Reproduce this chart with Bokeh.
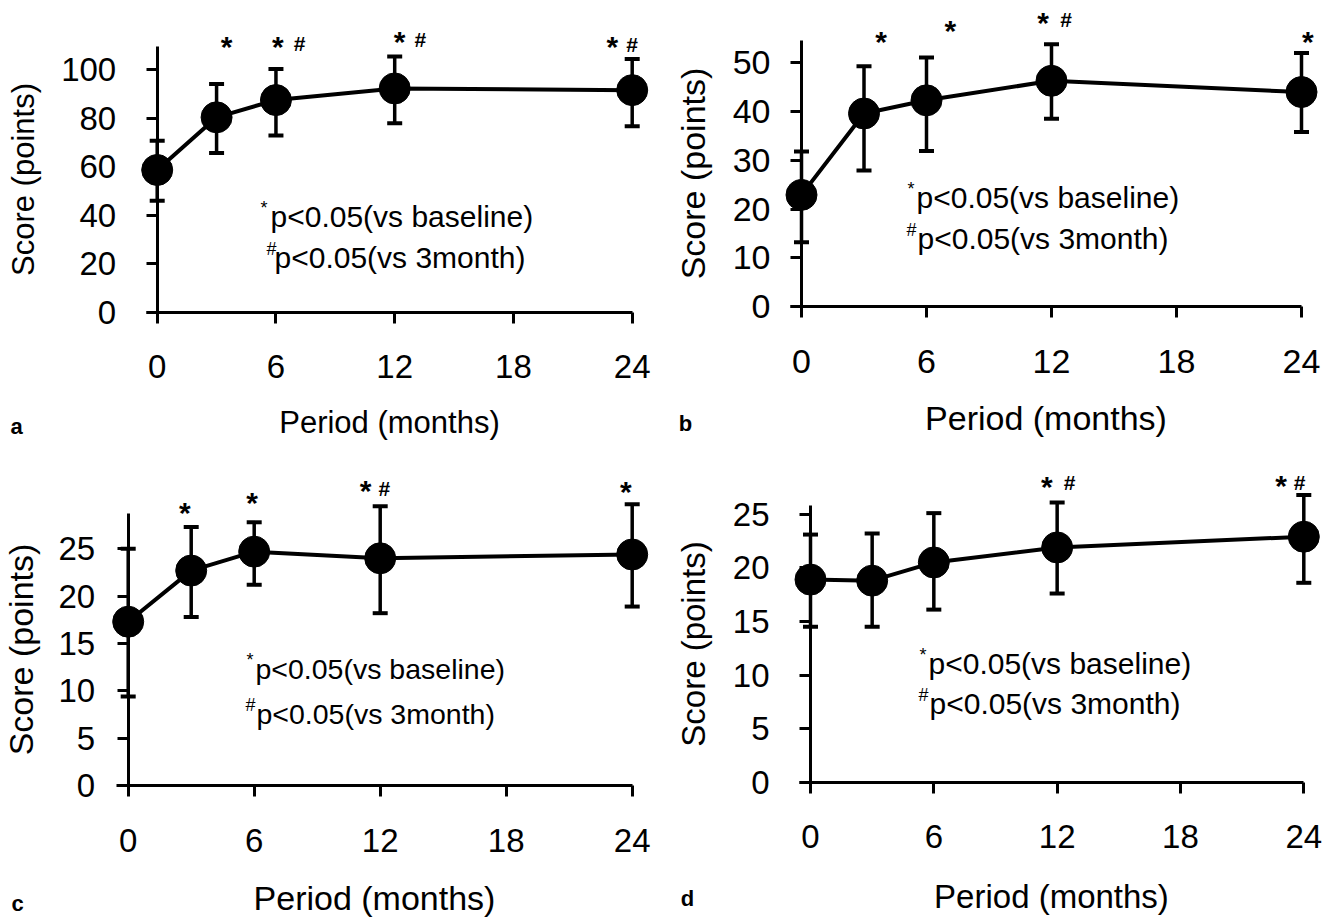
from bokeh.plotting import figure
from bokeh.models import (ColumnDataSource, Whisker, TeeHead, Label, FixedTicker,
                          LinearAxis, Range1d)
from bokeh.layouts import column, row
from bokeh.embed import file_html
from bokeh.resources import INLINE
from bokeh.core.properties import value

# ---------------- data ----------------
months = [0, 3, 6, 12, 24]
x_ticks = [0, 6, 12, 18, 24]

a_mean = [58.6, 80.3, 87.4, 92.2, 91.5]
a_upper = [70.6, 94.0, 100.2, 105.4, 104.3]
a_lower = [45.9, 65.6, 72.8, 77.9, 76.6]
a_yticks = [0, 20, 40, 60, 80, 100]
a_star_x = [3.5, 6.1, 12.25, 23.0]
a_star_y = [109.3, 109.3, 111.4, 109.3]
a_hash_x = [7.2, 13.3, 24.0]
a_hash_y = [110.9, 112.4, 110.4]

b_mean = [22.9, 39.6, 42.3, 46.3, 44.0]
b_upper = [31.8, 49.3, 51.1, 53.8, 52.0]
b_lower = [13.2, 27.9, 31.9, 38.5, 35.8]
b_yticks = [0, 10, 20, 30, 40, 50]
b_star_x = [3.82, 7.14, 11.6, 24.3]
b_star_y = [54.3, 56.7, 58.3, 54.3]
b_hash_x = [12.7]
b_hash_y = [58.9]

c_mean = [17.3, 22.7, 24.7, 24.0, 24.4]
c_upper = [25.0, 27.3, 27.8, 29.5, 29.7]
c_lower = [9.4, 17.8, 21.2, 18.2, 18.9]
c_yticks = [0, 5, 10, 15, 20, 25]
c_star_x = [2.7, 5.9, 11.3, 23.7]
c_star_y = [28.8, 29.9, 31.2, 31.1]
c_hash_x = [12.2]
c_hash_y = [31.4]

d_mean = [18.9, 18.8, 20.5, 21.9, 22.9]
d_upper = [23.1, 23.2, 25.1, 26.1, 26.8]
d_lower = [14.5, 14.5, 16.1, 17.6, 18.6]
d_yticks = [0, 5, 10, 15, 20, 25]
d_star_x = [11.5, 22.9]
d_star_y = [27.6, 27.7]
d_hash_x = [12.6, 23.8]
d_hash_y = [28.0, 28.0]

note1 = "p<0.05(vs baseline)"
note2 = "p<0.05(vs 3month)"
x_label = "Period (months)"
y_label = "Score (points)"

FONT = "Liberation Sans"

# ---------------- layout configuration (screen pixels) ----------------
cfg_a = dict(fig=(0, 0, 669, 450), x0=156.7, x24=631.7, y0=311.7, sy=2.427,
             ytop=109.3, tick_fs=33, lab_fs=31,
             ylab_standoff=30, yals=17, xals=23,
             notes=(260, 270, 216, 266, 274, 257, 30), letter=("a", 16, 426))
cfg_b = dict(fig=(669, 0, 669, 450), x0=801, x24=1301, y0=306, sy=4.874,
             ytop=54.6, tick_fs=34, lab_fs=34,
             ylab_standoff=20, yals=18, xals=23,
             notes=(907, 916, 197, 906, 917, 238, 30), letter=("b", 685, 423))
cfg_c = dict(fig=(0, 450, 669, 467), x0=127.7, x24=631.7, y0=785, sy=9.468,
             ytop=28.7, tick_fs=33, lab_fs=34,
             ylab_standoff=22, yals=16, xals=24,
             notes=(246, 255, 668, 245, 256, 713, 28.5), letter=("c", 17, 903))
cfg_d = dict(fig=(669, 450, 669, 467), x0=810, x24=1303.3, y0=781.7, sy=10.72,
             ytop=25.8, tick_fs=33, lab_fs=33,
             ylab_standoff=30, yals=18, xals=26,
             notes=(919, 928, 663, 918, 929, 703, 30), letter=("d", 687, 898))


def make_panel(cfg, mean, upper, lower, yticks, star_x, star_y, hash_x, hash_y):
    ox, oy, W, H = cfg["fig"]
    x0, x24, y0, sy = cfg["x0"], cfg["x24"], cfg["y0"], cfg["sy"]
    sx = (x24 - x0) / 24.0

    def X(px):
        return (px - x0) / sx

    def Y(py):
        return (y0 - py) / sy

    p = figure(width=W, height=H, output_backend="svg", toolbar_location=None,
               x_range=Range1d(X(ox), X(ox + W)), y_range=Range1d(Y(oy + H), Y(oy)),
               x_axis_type=None, y_axis_type=None,
               min_border_left=0, min_border_right=0,
               min_border_top=0, min_border_bottom=0)
    p.outline_line_color = None
    p.background_fill_color = "white"
    p.border_fill_color = "white"

    xaxis = LinearAxis(ticker=FixedTicker(ticks=x_ticks), bounds=(-0.55, 24),
                       fixed_location=0, axis_label=x_label)
    yaxis = LinearAxis(ticker=FixedTicker(ticks=yticks), bounds=(0, cfg["ytop"]),
                       fixed_location=0, axis_label=y_label)
    for ax in (xaxis, yaxis):
        ax.axis_line_width = 3
        ax.axis_line_color = "black"
        ax.major_tick_line_width = 3
        ax.major_tick_line_color = "black"
        ax.major_tick_in = 0
        ax.major_tick_out = 11
        ax.minor_tick_in = 0
        ax.minor_tick_out = 0
        ax.major_label_text_font = FONT
        ax.major_label_text_font_size = "%dpx" % cfg["tick_fs"]
        ax.major_label_text_color = "black"
        ax.axis_label_text_font = FONT
        ax.axis_label_text_font_style = "normal"
        ax.axis_label_text_font_size = "%dpx" % cfg["lab_fs"]
        ax.axis_label_text_color = "black"
    xaxis.major_label_standoff = 32
    xaxis.axis_label_standoff = cfg["xals"]
    yaxis.major_label_standoff = cfg["ylab_standoff"]
    yaxis.axis_label_standoff = cfg["yals"]
    p.add_layout(xaxis, "below")
    p.add_layout(yaxis, "left")

    src = ColumnDataSource(dict(x=months, mean=mean, upper=upper, lower=lower))
    p.add_layout(Whisker(source=src, base="x", upper="upper", lower="lower",
                         line_width=3.5, line_color="black",
                         upper_head=TeeHead(size=15, line_width=4, line_color="black"),
                         lower_head=TeeHead(size=15, line_width=4, line_color="black")))
    p.line("x", "mean", source=src, line_width=4, line_color="black")
    p.scatter("x", "mean", source=src, size=31, fill_color="black", line_color="black")

    p.text(x=star_x, y=star_y, text=["*"] * len(star_x), text_font=value(FONT),
           text_font_size="30px", text_font_style="bold", text_align="center",
           text_baseline="middle", text_color="black")
    p.text(x=hash_x, y=hash_y, text=["#"] * len(hash_x), text_font=value(FONT),
           text_font_size="21px", text_font_style="bold", text_align="center",
           text_baseline="middle", text_color="black")

    s1x, t1x, l1y, s2x, t2x, l2y, nfs = cfg["notes"]
    for sx_, tx_, ly, sym, txt in ((s1x, t1x, l1y, "*", note1), (s2x, t2x, l2y, "#", note2)):
        p.add_layout(Label(x=X(tx_), y=Y(ly), text=txt, text_font=FONT,
                           text_font_size="%.1fpx" % nfs, text_align="left",
                           text_baseline="middle", text_color="black"))
        p.add_layout(Label(x=X(sx_), y=Y(ly - 9), text=sym, text_font=FONT,
                           text_font_size="18px", text_align="left",
                           text_baseline="middle", text_color="black"))

    let, lx, ly = cfg["letter"]
    p.add_layout(Label(x=X(lx), y=Y(ly), text=let, text_font=FONT,
                       text_font_size="22px", text_font_style="bold",
                       text_align="center", text_baseline="middle", text_color="black"))
    return p


pa = make_panel(cfg_a, a_mean, a_upper, a_lower, a_yticks, a_star_x, a_star_y, a_hash_x, a_hash_y)
pb = make_panel(cfg_b, b_mean, b_upper, b_lower, b_yticks, b_star_x, b_star_y, b_hash_x, b_hash_y)
pc = make_panel(cfg_c, c_mean, c_upper, c_lower, c_yticks, c_star_x, c_star_y, c_hash_x, c_hash_y)
pd = make_panel(cfg_d, d_mean, d_upper, d_lower, d_yticks, d_star_x, d_star_y, d_hash_x, d_hash_y)

layout = column(row(pa, pb), row(pc, pd))
open("out.html", "w").write(file_html(layout, INLINE))
